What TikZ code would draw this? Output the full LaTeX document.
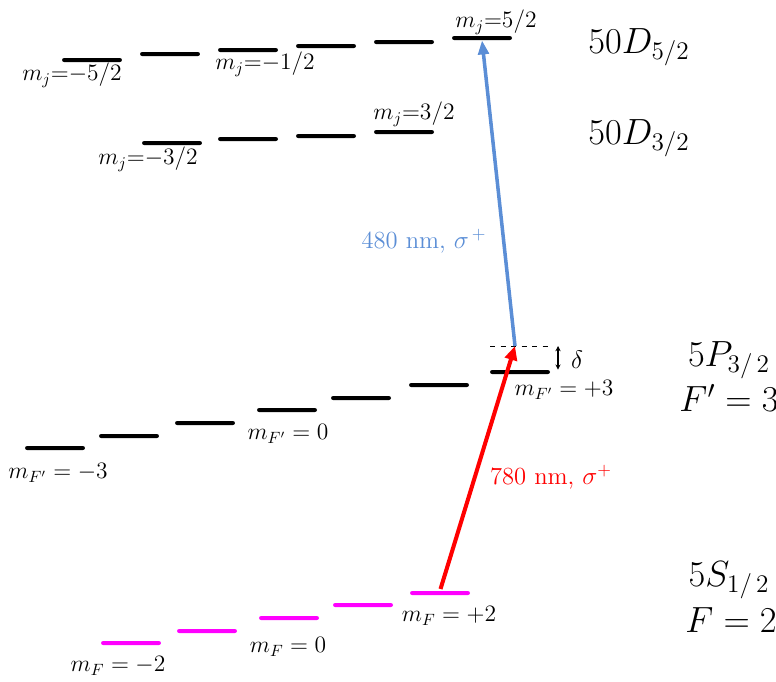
\documentclass[tikz,border=0pt]{standalone}
\usepackage{amsmath}
\usetikzlibrary{arrows.meta,positioning}
\definecolor{lvlMagenta}{HTML}{FF00FF}
\definecolor{beamRed}{HTML}{FF0000}
\definecolor{beamBlue}{HTML}{5B8ED6}
\tikzset{
  level/.style={fill=black, rounded corners=1.2pt, minimum width=1.2cm,
    minimum height=0.08cm, inner sep=0pt},
  ground level/.style={level, fill=lvlMagenta},
  red beam/.style={-{Triangle[length=8pt,width=7pt]}, line width=2.3pt,
    draw=beamRed, shorten <=1pt},
  blue beam/.style={-{Triangle[length=8pt,width=6pt]}, line width=2pt,
    draw=beamBlue},
  sub label/.style={font=\fontsize{14.4}{16}\selectfont, inner sep=0pt,
    scale=0.93, transform shape},
  state label/.style={font=\fontsize{20}{22}\selectfont, inner sep=0pt},
  beam label/.style={font=\fontsize{14}{16}\selectfont, inner sep=0pt}
}
\begin{document}
\begin{tikzpicture}[x=0.02cm,y=-0.02cm]
  \useasboundingbox (0,0) rectangle (776,681);
  % 50D_{5/2} sublevels
  \foreach \nm/\xc/\yc in {d51/92/60, d52/170/54, d53/248/50, d54/326/46,
      d55/404/42, d56/482/38}
    \node[level] (\nm) at (\xc,\yc) {};
  % 50D_{3/2} sublevels
  \foreach \nm/\xc/\yc in {d31/172/143, d32/248/139, d33/326/136, d34/404/132}
    \node[level] (\nm) at (\xc,\yc) {};
  % 5P_{3/2}, F'=3 sublevels
  \foreach \nm/\xc/\yc in {p1/55/448, p2/129/436, p3/205/423, p4/287/410,
      p5/361/398, p6/439/385, p7/520/372}
    \node[level] (\nm) at (\xc,\yc) {};
  % 5S_{1/2}, F=2 sublevels
  \foreach \nm/\xc/\yc in {s1/131/643, s2/207/631, s3/289/618, s4/363/605,
      s5/440/593}
    \node[ground level] (\nm) at (\xc,\yc) {};

  % intermediate (detuned) level
  \coordinate (vl) at (490,346);
  \coordinate (vr) at (550,346);
  \coordinate (virt) at (515,346);
  \draw[dashed, thin] (vl) -- (vr);
  \draw[{Stealth[length=3pt,width=3pt]}-{Stealth[length=3pt,width=3pt]}, semithick]
    ([xshift=0.16cm]vr) -- ([xshift=0.16cm]vr |- p7.north);
  \node[beam label] (delta) at (577,360) {$\delta$};

  % excitation beams
  \draw[red beam] (s5.north) -- (virt);
  \draw[blue beam] (virt) -- (d56.south);
  \node[beam label, text=beamRed] (red) at (551,477) {780 nm, $\sigma^{+}$};
  \node[beam label, text=beamBlue] (blue) at (424,241) {480 nm, $\sigma^{\,+}$};

  % sublevel labels
  \node[sub label] (lmj1) at (72,75) {$m_j{=}{-}5/2$};
  \node[sub label] (lmj2) at (265,64) {$m_j{=}{-}1/2$};
  \node[sub label] (lmj3) at (148,159) {$m_j{=}{-}3/2$};
  \node[sub label] (lmj4) at (414,114) {$m_j{=}3/2$};
  \node[sub label] (lmj5) at (496,22) {$m_j{=}5/2$};
  \node[sub label] (lmp1) at (58,473) {$m_{F'} = -3$};
  \node[sub label] (lmp2) at (288,434) {$m_{F'} = 0$};
  \node[sub label] (lmp3) at (564,390) {$m_{F'} = +3$};
  \node[sub label] (lms1) at (118,666) {$m_F = -2$};
  \node[sub label] (lms2) at (288,647) {$m_F = 0$};
  \node[sub label] (lms3) at (449,616) {$m_F = +2$};

  % state labels
  \node[state label] (nD5) at (639,47) {$50D_{5/2}$};
  \node[state label] (nD3) at (639,138) {$50D_{3/2}$};
  \node[state label] (nP) at (729,360) {$5P_{3/\,2}$};
  \node[state label] (nF1) at (729,398) {$F' = 3$};
  \node[state label] (nS) at (729,580) {$5S_{1/\,2}$};
  \node[state label] (nF0) at (731,620) {$F = 2$};
\end{tikzpicture}
\end{document}
